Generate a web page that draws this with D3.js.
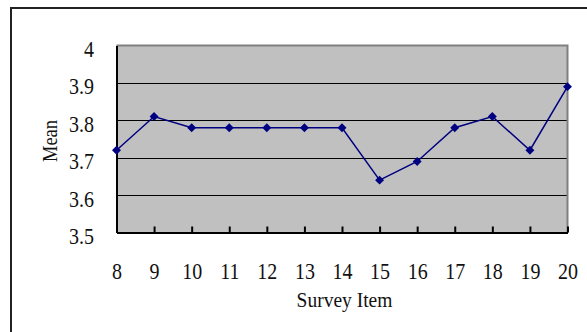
<!DOCTYPE html>
<html><head><meta charset="utf-8">
<script src="https://cdn.jsdelivr.net/npm/d3@7"></script>
<style>
html,body{margin:0;padding:0;background:#fff;}
svg{display:block;}
</style></head>
<body>
<script>
const items = [8, 9, 10, 11, 12, 13, 14, 15, 16, 17, 18, 19, 20];
const means = [3.72, 3.81, 3.78, 3.78, 3.78, 3.78, 3.78, 3.64, 3.69, 3.78, 3.81, 3.72, 3.89];
const yTicks = [3.5, 3.6, 3.7, 3.8, 3.9, 4];
const xTitle = "Survey Item";
const yTitle = "Mean";

const W = 587, H = 332;
const L = 116.5, R = 567.5, T = 45.5, B = 232.5;
const FONT = '"Liberation Serif","Times New Roman",serif';
const SY = 1.12;

const svg = d3.select("body").append("svg").attr("width", W).attr("height", H);

// outer frame
svg.append("rect").attr("x", 11).attr("y", 8).attr("width", 700).attr("height", 400)
  .attr("fill", "none").attr("stroke", "#222").attr("stroke-width", 2);

const x = d3.scalePoint().domain(items).range([L, R]);
const y = d3.scaleLinear().domain([3.5, 4]).range([B, T]);

// plot background
svg.append("rect").attr("x", L).attr("y", T).attr("width", R - L).attr("height", B - T)
  .attr("fill", "#c0c0c0");

// gridlines
svg.append("g").selectAll("line").data(yTicks.filter(d => d > 3.5 && d < 4)).join("line")
  .attr("x1", L).attr("x2", R).attr("y1", d => Math.round(y(d)) + 0.5).attr("y2", d => Math.round(y(d)) + 0.5)
  .attr("stroke", "#000").attr("stroke-width", 1.2);

// top & right gray border
svg.append("path").attr("d", `M${L},${T}H${R}V${B}`).attr("fill", "none")
  .attr("stroke", "#808080").attr("stroke-width", 2);

// y axis
const yAxis = d3.axisLeft(y).tickValues(yTicks).tickSize(0).tickPadding(23).tickFormat(d3.format("~g"));
const gy = svg.append("g").attr("transform", `translate(${L},0)`).call(yAxis);
gy.select(".domain").attr("stroke", "#000").attr("stroke-width", 2);
gy.selectAll("text")
  .attr("x", null).attr("dy", null)
  .attr("transform", `translate(-22.5,11) scale(1,${SY})`)
  .style("font-family", FONT).style("font-size", "20px").style("fill", "#111");

// x axis
const xAxis = d3.axisBottom(x).tickSizeInner(-6).tickSizeOuter(0).tickPadding(33);
const gx = svg.append("g").attr("transform", `translate(0,${B})`).call(xAxis);
gx.select(".domain").attr("stroke", "#000").attr("stroke-width", 2);
gx.selectAll(".tick line").attr("stroke", "#000").attr("stroke-width", 2);
gx.selectAll("text")
  .attr("y", null).attr("dy", null)
  .attr("transform", `translate(0,46.5) scale(1,${SY})`)
  .style("font-family", FONT).style("font-size", "20px").style("fill", "#111");

// line
const line = d3.line().x((d, i) => x(items[i])).y(d => y(d));
svg.append("path").datum(means).attr("d", line).attr("fill", "none")
  .attr("stroke", "#000080").attr("stroke-width", 1.5);

// markers
svg.append("g").selectAll("path").data(means).join("path")
  .attr("d", d3.symbol().type(d3.symbolSquare).size(40))
  .attr("transform", (d, i) => `translate(${x(items[i])},${y(d)}) rotate(45)`)
  .attr("fill", "#000080");

// titles
svg.append("text").attr("transform", `translate(344.5,306.5) scale(1,${SY})`).attr("text-anchor", "middle")
  .style("font-family", FONT).style("font-size", "19.5px").style("fill", "#111").text(xTitle);
svg.append("text").attr("transform", `translate(56.5,141) rotate(-90) scale(1,${SY})`).attr("text-anchor", "middle")
  .style("font-family", FONT).style("font-size", "18.5px").style("fill", "#111").text(yTitle);
</script>
</body></html>
